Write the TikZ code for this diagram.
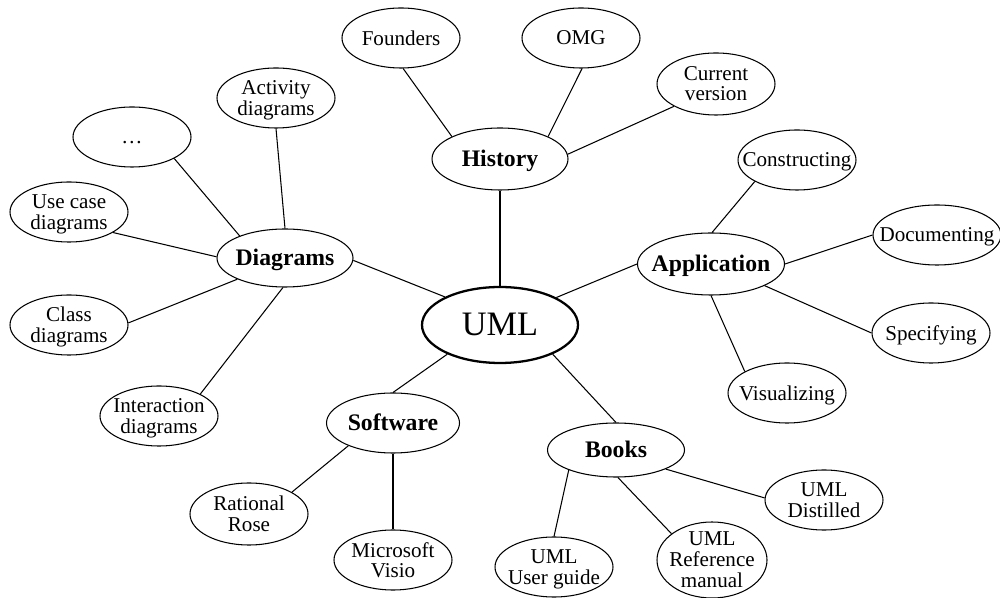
\documentclass[tikz,border=0pt]{standalone}
\usepackage{fontspec}
\setmainfont{Liberation Serif}
\usetikzlibrary{shapes.geometric}

\newcommand{\ovaltext}[1]{\makebox[0pt]{\raisebox{-0.38em}[0pt][0pt]{\begin{tabular}{@{}c@{}}#1\end{tabular}}}}

\tikzset{
  oval/.style={ellipse,draw,line width=0.6pt,inner sep=0pt},
  leaf/.style={oval,minimum width=2.36cm,minimum height=1.2cm,font=\fontsize{12}{11.5}\selectfont},
  topic/.style={oval,font=\fontsize{13.5}{14}\selectfont\bfseries},
  root/.style={oval,line width=1.3pt,minimum width=3.12cm,minimum height=1.52cm,font=\fontsize{19.5}{20}\selectfont},
  link/.style={line width=0.6pt}
}

\begin{document}
\begin{tikzpicture}
\useasboundingbox (0,0) rectangle (20,-11.96);
% centre
\node [root] (uml) at (10,-6.5) {\ovaltext{UML}};
% history
\node [topic,minimum width=2.72cm,minimum height=1.24cm] (hist) at (10,-3.18) {\ovaltext{History}};
\node [leaf] (founders) at (8.02,-0.76) {\ovaltext{Founders}};
\node [leaf] (omg) at (11.62,-0.76) {\ovaltext{OMG}};
\node [leaf,minimum height=1.24cm] (curver) at (14.32,-1.68) {\ovaltext{Current\\version}};
% diagrams
\node [topic,minimum width=2.72cm,minimum height=1.16cm] (diag) at (5.7,-5.16) {\ovaltext{Diagrams}};
\node [leaf] (activity) at (5.52,-1.96) {\ovaltext{Activity\\diagrams}};
\node [leaf] (dots) at (2.64,-2.74) {\ovaltext{\ldots}};
\node [leaf] (usecase) at (1.38,-4.24) {\ovaltext{Use case\\diagrams}};
\node [leaf] (class) at (1.38,-6.5) {\ovaltext{Class\\diagrams}};
\node [leaf] (interact) at (3.18,-8.32) {\ovaltext{Interaction\\diagrams}};
% application
\node [topic,minimum width=2.94cm,minimum height=1.24cm] (appl) at (14.22,-5.28) {\ovaltext{Application}};
\node [leaf] (constr) at (15.94,-3.2) {\ovaltext{Constructing}};
\node [leaf,minimum width=2.56cm] (doc) at (18.74,-4.7) {\ovaltext{Documenting}};
\node [leaf] (spec) at (18.62,-6.66) {\ovaltext{Specifying}};
\node [leaf] (visual) at (15.74,-7.86) {\ovaltext{Visualizing}};
% software
\node [topic,minimum width=2.66cm,minimum height=1.2cm] (soft) at (7.86,-8.46) {\ovaltext{Software}};
\node [leaf,minimum height=1.24cm] (rose) at (4.98,-10.28) {\ovaltext{Rational\\Rose}};
\node [leaf] (visio) at (7.86,-11.2) {\ovaltext{Microsoft\\Visio}};
% books
\node [topic,minimum width=2.74cm,minimum height=1.08cm] (books) at (12.32,-9) {\ovaltext{Books}};
\node [leaf] (guide) at (11.08,-11.34) {\ovaltext{UML\\User guide}};
\node [leaf,minimum width=2.2cm,minimum height=1.52cm] (refman) at (14.24,-11.2) {\ovaltext{UML\\Reference\\manual}};
\node [leaf] (distilled) at (16.48,-10) {\ovaltext{UML\\Distilled}};

\draw [link] (hist.-90) -- (uml.90);
\draw [link] (hist.155) -- (founders.-86);
\draw [link] (hist.25) -- (omg.-88);
\draw [link] (hist.4) -- (curver.-152);

\draw [link] (diag.-2) -- (uml.153);
\draw [link] (diag.90) -- (activity.-90);
\draw [link] (diag.154) -- (dots.-27);
\draw [link] (diag.179) -- (usecase.-25);
\draw [link] (diag.-156) -- (class.2);
\draw [link] (diag.-94) -- (interact.28);

\draw [link] (uml.26) -- (appl.180);
\draw [link] (appl.88) -- (constr.-153);
\draw [link] (appl.0) -- (doc.180);
\draw [link] (appl.-22) -- (spec.180);
\draw [link] (appl.-90) -- (visual.153);

\draw [link] (uml.-151) -- (soft.90);
\draw [link] (soft.-153) -- (rose.27);
\draw [link] (soft.-90) -- (visio.90);

\draw [link] (uml.-29) -- (books.90);
\draw [link] (books.-157) -- (guide.90);
\draw [link] (books.-86) -- (refman.147);
\draw [link] (books.-21) -- (distilled.178);
\end{tikzpicture}
\end{document}
